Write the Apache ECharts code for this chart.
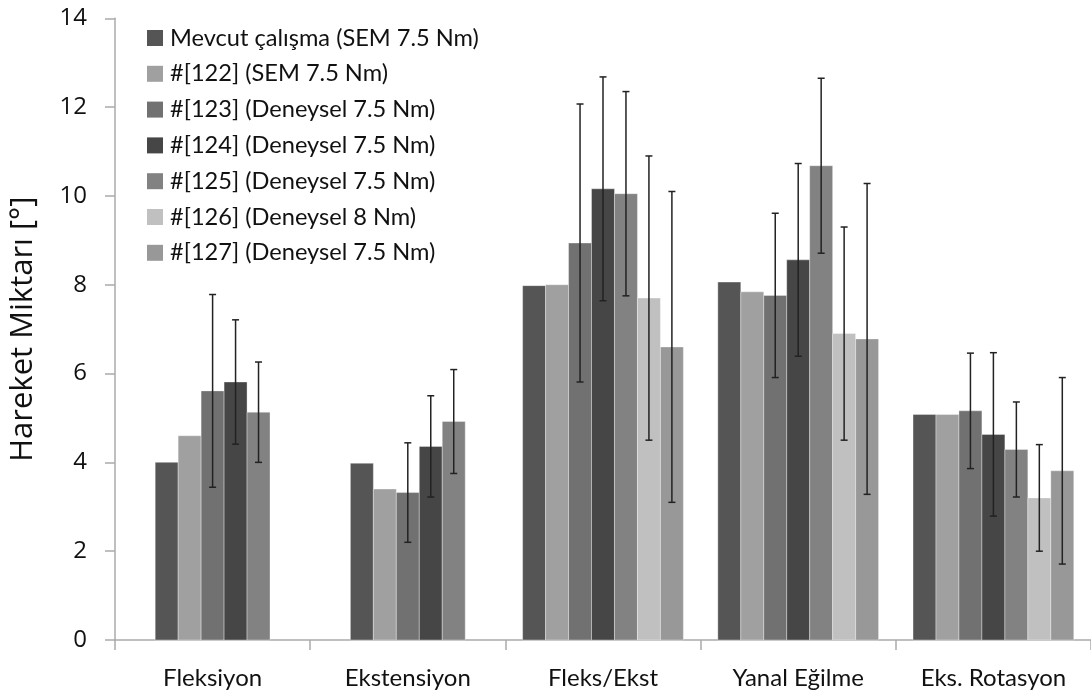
<!DOCTYPE html>
<html>
<head>
<meta charset="utf-8">
<script src="https://cdn.jsdelivr.net/npm/echarts@6/dist/echarts.min.js"></script>
<style>html,body{margin:0;padding:0;background:#fff}#c{width:1091px;height:698px}</style>
</head>
<body>
<div id="c"></div>
<script>
const categories = ['Fleksiyon', 'Ekstensiyon', 'Fleks/Ekst', 'Yanal Eğilme', 'Eks. Rotasyon'];
const seriesNames = [
  'Mevcut çalışma (SEM 7.5 Nm)',
  '#[122] (SEM 7.5 Nm)',
  '#[123] (Deneysel 7.5 Nm)',
  '#[124] (Deneysel 7.5 Nm)',
  '#[125] (Deneysel 7.5 Nm)',
  '#[126] (Deneysel 8 Nm)',
  '#[127] (Deneysel 7.5 Nm)'
];
const mevcut    = [4.00, 3.98, 7.98, 8.06, 5.08];
const mevcutErr = [null, null, null, null, null];
const ref122    = [4.60, 3.40, 8.00, 7.84, 5.08];
const ref122Err = [null, null, null, null, null];
const ref123    = [5.61, 3.32, 8.94, 7.76, 5.16];
const ref123Err = [2.17, 1.12, 3.13, 1.85, 1.30];
const ref124    = [5.81, 4.36, 10.16, 8.56, 4.63];
const ref124Err = [1.40, 1.14, 2.52, 2.17, 1.84];
const ref125    = [5.13, 4.92, 10.05, 10.68, 4.29];
const ref125Err = [1.13, 1.17, 2.30, 1.97, 1.07];
const ref126    = [null, null, 7.70, 6.90, 3.20];
const ref126Err = [null, null, 3.20, 2.40, 1.20];
const ref127    = [null, null, 6.60, 6.78, 3.81];
const ref127Err = [null, null, 3.50, 3.50, 2.10];
const yTicks = [0, 2, 4, 6, 8, 10, 12, 14];

const values = [mevcut, ref122, ref123, ref124, ref125, ref126, ref127];
const errors = [mevcutErr, ref122Err, ref123Err, ref124Err, ref125Err, ref126Err, ref127Err];
const colors = ['#555555', '#a0a0a0', '#717171', '#464646', '#828282', '#c0c0c0', '#989898'];

const chart = echarts.init(document.getElementById('c'), null, {renderer: 'canvas'});

function makeRender(si) {
  return function (params, api) {
    const cat = api.value(0);
    const val = api.value(1);
    const err = api.value(2);
    if (val == null || isNaN(val)) return;
    let n = 0, pos = 0;
    for (let k = 0; k < values.length; k++) {
      if (values[k][cat] != null) {
        if (k === si) pos = n;
        n++;
      }
    }
    const band = api.size([1, 0])[0];
    const barW = band / 8.5;
    const base = api.coord([cat, 0]);
    const top = api.coord([cat, val]);
    const x0 = base[0] - n * barW / 2 + pos * barW;
    const children = [{
      type: 'rect',
      shape: {x: x0, y: top[1], width: barW, height: base[1] - top[1]},
      style: {fill: colors[si], stroke: 'rgba(255,255,255,0.35)', lineWidth: 1}
    }];
    if (err != null && !isNaN(err)) {
      const cx = x0 + barW / 2;
      const yHi = api.coord([cat, val + err])[1];
      const yLo = api.coord([cat, val - err])[1];
      const cap = 3.5;
      const ls = {stroke: '#222222', lineWidth: 1.5};
      children.push({type: 'line', shape: {x1: cx, y1: yHi, x2: cx, y2: yLo}, style: ls});
      children.push({type: 'line', shape: {x1: cx - cap, y1: yHi, x2: cx + cap, y2: yHi}, style: ls});
      children.push({type: 'line', shape: {x1: cx - cap, y1: yLo, x2: cx + cap, y2: yLo}, style: ls});
    }
    return {type: 'group', children: children};
  };
}

const series = seriesNames.map((name, si) => ({
  name: name,
  type: 'custom',
  renderItem: makeRender(si),
  itemStyle: {color: colors[si]},
  encode: {x: 0, y: 1},
  data: categories.map((c, ci) => [ci, values[si][ci], errors[si][ci]]),
  z: 2
}));

chart.setOption({
  animation: false,
  backgroundColor: '#ffffff',
  grid: {left: 115, top: 18.3, width: 977.5, bottom: 58, containLabel: false},
  legend: {
    orient: 'vertical',
    left: 147,
    top: 26,
    padding: 0,
    icon: 'rect',
    itemWidth: 16,
    itemHeight: 16,
    itemGap: 11.8,
    data: seriesNames,
    textStyle: {fontFamily: 'Lato', fontSize: 23.6, color: '#111111', padding: [0, 0, 0, 2]}
  },
  xAxis: {
    type: 'category',
    data: categories,
    axisLine: {lineStyle: {color: '#aaaaaa', width: 1.5}},
    axisTick: {show: true, interval: 0, length: 10, lineStyle: {color: '#aaaaaa', width: 1.5}},
    axisLabel: {interval: 0, hideOverlap: false, fontFamily: 'Lato', fontSize: 24, color: '#111111', margin: 26}
  },
  yAxis: {
    type: 'value',
    min: yTicks[0],
    max: yTicks[yTicks.length - 1],
    interval: yTicks[1] - yTicks[0],
    name: 'Hareket Miktarı [°]',
    nameLocation: 'middle',
    nameGap: 76,
    nameTextStyle: {fontFamily: 'Open Sans', fontSize: 31, color: '#111111'},
    axisLine: {show: true, lineStyle: {color: '#aaaaaa', width: 1.5}},
    axisTick: {show: true, length: 10, lineStyle: {color: '#aaaaaa', width: 1.5}},
    splitLine: {show: false},
    axisLabel: {fontFamily: 'Open Sans', fontSize: 24, color: '#111111', margin: 28}
  },
  series: series
});
</script>
</body>
</html>
